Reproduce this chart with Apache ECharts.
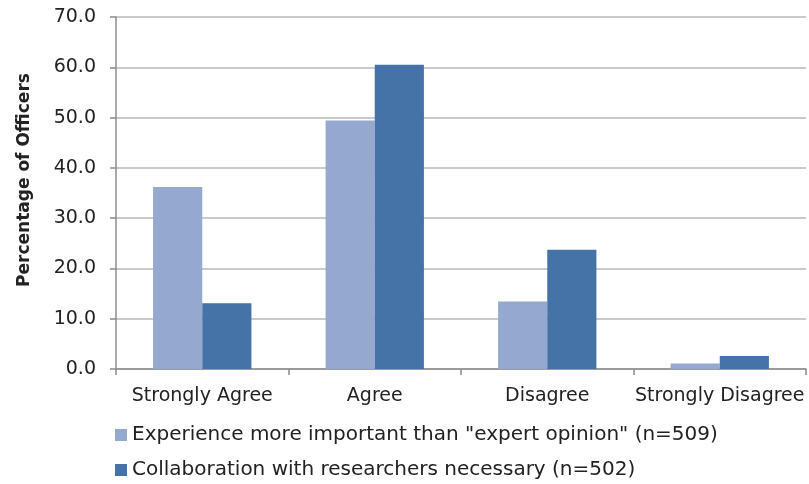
<!DOCTYPE html>
<html>
<head>
<meta charset="utf-8">
<script src="https://cdn.jsdelivr.net/npm/echarts@6/dist/echarts.min.js"></script>
<style>
  html, body { margin: 0; padding: 0; background: #fff; }
  #chart { width: 809px; height: 484px; }
</style>
</head>
<body>
<div id="chart"></div>
<script>
// Survey responses, percentage of officers per answer
const categories = ['Strongly Agree', 'Agree', 'Disagree', 'Strongly Disagree'];
const seriesNames = [
  'Experience more important than "expert opinion" (n=509)',
  'Collaboration with researchers necessary (n=502)'
];
const experienceValues = [36.2, 49.4, 13.4, 1.1];
const collaborationValues = [13.1, 60.5, 23.7, 2.6];
const yAxisTitle = 'Percentage of Officers';

const font = '"DejaVu Sans", sans-serif';
const textColor = '#222222';
const chart = echarts.init(document.getElementById('chart'), null, { renderer: 'canvas' });

chart.setOption({
  animation: false,
  textStyle: { fontFamily: font },
  grid: { left: 116, right: 3, top: 17, bottom: 115, containLabel: false },
  legend: {
    orient: 'vertical',
    left: 115,
    top: 425,
    padding: 0,
    itemWidth: 12,
    itemHeight: 12,
    itemGap: 15,
    icon: 'rect',
    textStyle: { fontFamily: font, fontSize: 20, color: textColor },
    data: seriesNames
  },
  xAxis: {
    type: 'category',
    data: categories,
    axisLine: { lineStyle: { color: '#8c8c8c', width: 1.5 } },
    axisTick: { show: true, alignWithLabel: false, length: 6, lineStyle: { color: '#8c8c8c', width: 1.5 } },
    axisLabel: { fontFamily: font, fontSize: 19, color: textColor, margin: 18, interval: 0 }
  },
  yAxis: {
    type: 'value',
    min: 0,
    max: 70,
    interval: 10,
    name: yAxisTitle,
    nameLocation: 'middle',
    nameGap: 83,
    nameTextStyle: {
      fontFamily: font, fontSize: 17, fontWeight: 'bold', color: textColor,
      padding: [0, 0, 0, 26]
    },
    axisLine: { show: true, lineStyle: { color: '#8c8c8c', width: 1.5 } },
    axisTick: { show: true, length: 6, lineStyle: { color: '#8c8c8c', width: 1.5 } },
    axisLabel: {
      fontFamily: font, fontSize: 19, color: textColor, margin: 20,
      formatter: v => v.toFixed(1)
    },
    splitLine: { lineStyle: { color: '#b8b8b8', width: 1.5 } }
  },
  series: [
    {
      name: seriesNames[0],
      type: 'bar',
      data: experienceValues,
      barGap: '0%',
      barCategoryGap: '43%',
      itemStyle: { color: '#95a9d0' }
    },
    {
      name: seriesNames[1],
      type: 'bar',
      data: collaborationValues,
      barGap: '0%',
      barCategoryGap: '43%',
      itemStyle: { color: '#4573a7' }
    }
  ]
});
</script>
</body>
</html>
